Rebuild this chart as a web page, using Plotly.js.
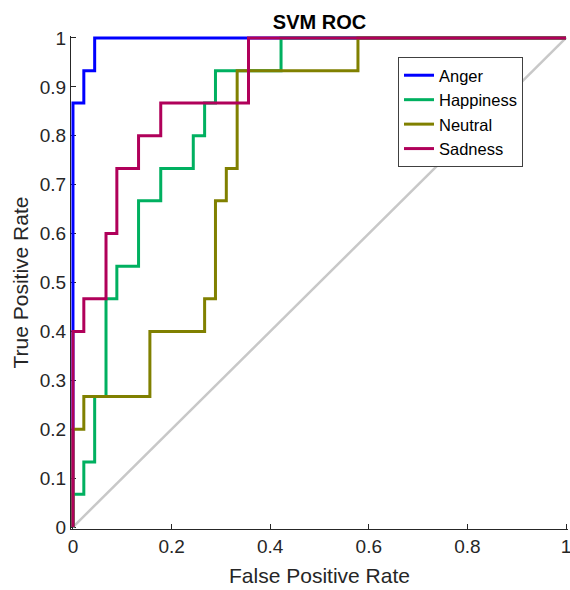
<!DOCTYPE html>
<html>
<head>
<meta charset="utf-8">
<script src="https://cdn.plot.ly/plotly-3.0.1.min.js"></script>
<style>html,body{margin:0;padding:0;background:#fff;}#chart{width:570px;height:590px;}</style>
</head>
<body>
<div id="chart"></div>
<script>
// ROC step curves (FPR, TPR)
var classNames = ["Anger", "Happiness", "Neutral", "Sadness"];
var angerFPR = [0, 0, 0.022, 0.022, 0.044, 0.044, 1];
var angerTPR = [0, 0.867, 0.867, 0.933, 0.933, 1, 1];
var happinessFPR = [0, 0, 0.022, 0.022, 0.044, 0.044, 0.067, 0.067, 0.089, 0.089, 0.133, 0.133, 0.178, 0.178, 0.244, 0.244, 0.267, 0.267, 0.289, 0.289, 0.422, 0.422, 1];
var happinessTPR = [0, 0.067, 0.067, 0.133, 0.133, 0.267, 0.267, 0.467, 0.467, 0.533, 0.533, 0.667, 0.667, 0.733, 0.733, 0.8, 0.8, 0.867, 0.867, 0.933, 0.933, 1, 1];
var neutralFPR = [0, 0, 0.022, 0.022, 0.156, 0.156, 0.267, 0.267, 0.289, 0.289, 0.311, 0.311, 0.333, 0.333, 0.578, 0.578, 1];
var neutralTPR = [0, 0.2, 0.2, 0.267, 0.267, 0.4, 0.4, 0.467, 0.467, 0.667, 0.667, 0.733, 0.733, 0.933, 0.933, 1, 1];
var sadnessFPR = [0, 0, 0.022, 0.022, 0.067, 0.067, 0.089, 0.089, 0.133, 0.133, 0.178, 0.178, 0.356, 0.356, 1];
var sadnessTPR = [0, 0.4, 0.4, 0.467, 0.467, 0.6, 0.6, 0.733, 0.733, 0.8, 0.8, 0.867, 0.867, 1, 1];
var chanceX = [0, 1];
var chanceY = [0, 1];
var xTicks = [0, 0.2, 0.4, 0.6, 0.8, 1];
var xTickText = ["0", "0.2", "0.4", "0.6", "0.8", "1"];
var yTicks = [0, 0.1, 0.2, 0.3, 0.4, 0.5, 0.6, 0.7, 0.8, 0.9, 1];
var yTickText = ["0", "0.1", "0.2", "0.3", "0.4", "0.5", "0.6", "0.7", "0.8", "0.9", "1"];

var colors = ["#0000ff", "#00b060", "#808000", "#b0005a"];
var series = [[angerFPR, angerTPR], [happinessFPR, happinessTPR], [neutralFPR, neutralTPR], [sadnessFPR, sadnessTPR]];

var traces = [{
  x: chanceX, y: chanceY, mode: "lines", showlegend: false, hoverinfo: "skip",
  line: {color: "#c8c8c8", width: 2.5}
}];
for (var i = 0; i < series.length; i++) {
  traces.push({
    x: series[i][0], y: series[i][1], mode: "lines", name: classNames[i],
    line: {color: colors[i], width: 3, shape: "linear"}
  });
}

var font = {family: "Liberation Sans, Arial, sans-serif", color: "#262626"};
var layout = {
  width: 570, height: 590,
  margin: {l: 71, r: 2, t: 36, b: 61, pad: 0},
  paper_bgcolor: "#fff", plot_bgcolor: "#fff",
  font: font,
  title: {text: "<b>SVM ROC</b>", font: {family: font.family, size: 20, color: "#000"},
          x: 0.5, xref: "paper", y: 1 - 22/590, yref: "container", yanchor: "middle"},
  xaxis: {
    range: [-0.004, 1.004], tickvals: xTicks, ticktext: xTickText,
    ticks: "inside", ticklen: 5, tickcolor: "#262626", tickwidth: 1,
    showline: true, linecolor: "#262626", linewidth: 1, mirror: false,
    showgrid: false, zeroline: false, layer: "below traces",
    ticklabeloverflow: "allow",
    tickfont: {size: 19, color: "#262626"},
    title: {text: "False Positive Rate", font: {size: 21, color: "#262626"}, standoff: 12}
  },
  yaxis: {
    range: [-0.004, 1.004], tickvals: yTicks, ticktext: yTickText,
    ticks: "inside", ticklen: 5, tickcolor: "#262626", tickwidth: 1,
    showline: true, linecolor: "#262626", linewidth: 1, mirror: false,
    showgrid: false, zeroline: false, layer: "below traces",
    ticklabeloverflow: "allow",
    tickfont: {size: 19, color: "#262626"},
    title: {text: "True Positive Rate", font: {size: 21, color: "#262626"}, standoff: 5}
  },
  legend: {
    x: (398 - 71) / 497, y: (590 - 61 - 57) / 493, xanchor: "left", yanchor: "top",
    bgcolor: "#fff", bordercolor: "#404040", borderwidth: 1,
    font: {size: 16.5, color: "#000"}, tracegroupgap: 0,
    entrywidth: 142, entrywidthmode: "pixels"
  },
  showlegend: true
};
Plotly.newPlot("chart", traces, layout, {staticPlot: true, displayModeBar: false});
</script>
</body>
</html>
